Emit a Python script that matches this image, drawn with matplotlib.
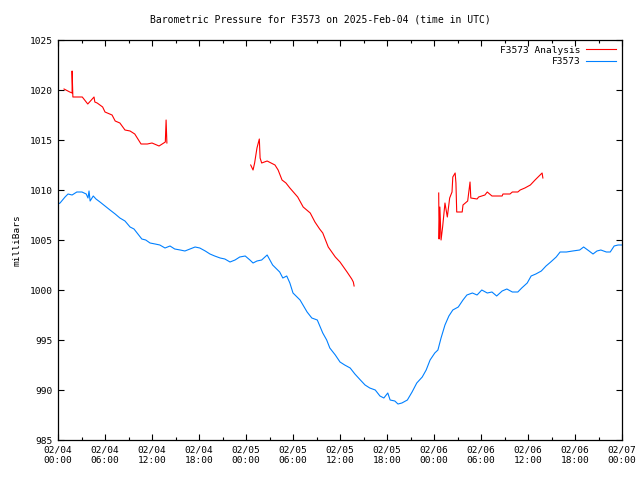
import numpy as np
import matplotlib.pyplot as plt
from matplotlib.ticker import MultipleLocator

# hours since 2025-02-04 00:00 UTC
obs_hours = [0.0, 0.26, 0.9, 1.28, 1.8, 2.4, 3.06, 3.6, 3.83, 3.96, 4.1, 4.5, 4.85, 5.36,
             6.0, 6.64, 7.3, 7.9, 8.55, 9.2, 9.7, 10.2, 10.7, 11.2, 11.75, 12.4, 13.0,
             13.66, 14.3, 14.9, 15.6, 16.2, 16.85, 17.5, 18.1, 18.8, 19.4, 20.0, 20.7,
             21.3, 21.96, 22.6, 23.2, 23.9, 24.5, 24.9, 25.4, 26.0, 26.7, 27.4, 28.3,
             28.7, 29.2, 29.6, 30.0, 30.9, 31.8, 32.4, 33.1, 33.8, 34.3, 34.7, 35.4,
             36.0, 36.6, 37.3, 37.9, 38.6, 39.2, 39.8, 40.5, 41.1, 41.6, 42.1, 42.4,
             43.0, 43.4, 43.9, 44.6, 45.2, 45.8, 46.5, 47.0, 47.5, 48.1, 48.5, 48.9,
             49.4, 49.9, 50.4, 51.1, 51.7, 52.2, 52.9, 53.5, 54.1, 54.8, 55.4, 56.0,
             56.7, 57.3, 58.0, 58.7, 59.2, 59.9, 60.4, 61.0, 61.7, 62.3, 62.9, 63.6,
             64.1, 64.9, 65.7, 66.6, 67.1, 67.8, 68.3, 68.8, 69.3, 70.0, 70.5, 71.0,
             71.5, 72.0]
obs_mb = [1008.6, 1008.7, 1009.3, 1009.6, 1009.5, 1009.8, 1009.8, 1009.6, 1009.2, 1009.9,
          1008.9, 1009.4, 1009.1, 1008.8, 1008.4, 1008.0, 1007.6, 1007.2, 1006.9, 1006.3,
          1006.1, 1005.6, 1005.1, 1005.0, 1004.7, 1004.6, 1004.5, 1004.2, 1004.4, 1004.1,
          1004.0, 1003.9, 1004.1, 1004.3, 1004.2, 1003.9, 1003.6, 1003.4, 1003.2, 1003.1,
          1002.8, 1003.0, 1003.3, 1003.4, 1003.0, 1002.7, 1002.9, 1003.0, 1003.5, 1002.5,
          1001.8, 1001.2, 1001.4, 1000.7, 999.7, 999.0, 997.8, 997.2, 997.0, 995.7, 995.0,
          994.2, 993.5, 992.8, 992.5, 992.2, 991.6, 991.0, 990.5, 990.2, 990.0, 989.4,
          989.2, 989.7, 989.0, 988.9, 988.6, 988.7, 989.0, 989.8, 990.7, 991.3, 992.0,
          993.0, 993.7, 994.0, 995.2, 996.5, 997.4, 998.0, 998.3, 999.0, 999.5, 999.7,
          999.5, 1000.0, 999.7, 999.8, 999.4, 999.9, 1000.1, 999.8, 999.8, 1000.2, 1000.7,
          1001.4, 1001.6, 1001.9, 1002.4, 1002.8, 1003.3, 1003.8, 1003.8, 1003.9, 1004.0,
          1004.3, 1003.9, 1003.6, 1003.9, 1004.0, 1003.8, 1003.8, 1004.4, 1004.5, 1004.5]

# analysis, three pieces separated by gaps (nan)
ana_hours = [0.77, 1.5, 1.8, 1.8, 1.9, 3.1, 3.8, 4.6, 4.7, 5.0, 5.7, 6.0, 6.9, 7.3, 7.9,
             8.55, 9.2, 9.8, 10.6, 11.4, 12.0, 12.9, 13.7, 13.8, 13.9,
             np.nan,
             24.6, 24.9, 25.1, 25.4, 25.7, 25.8, 26.0, 26.7, 27.2, 27.7, 28.1, 28.6, 29.1,
             29.6, 30.6, 31.3, 32.2, 32.8, 33.4, 33.8, 34.5, 35.4, 36.0, 36.9, 37.5, 37.7,
             37.8,
             np.nan,
             48.6, 48.65, 48.75, 48.9, 49.1, 49.4, 49.7, 50.0, 50.3, 50.4, 50.7, 50.8,
             50.9, 51.6, 51.7, 52.3, 52.6, 52.7, 53.5, 53.7, 54.5, 54.8, 55.4, 56.7, 56.8,
             57.7, 58.0, 58.7, 59.0, 59.6, 60.3, 60.9, 61.8, 61.9]
ana_mb = [1020.1, 1019.8, 1019.7, 1021.9, 1019.3, 1019.3, 1018.6, 1019.3, 1018.8, 1018.7,
          1018.3, 1017.8, 1017.5, 1016.9, 1016.7, 1016.0, 1015.9, 1015.6, 1014.6, 1014.6,
          1014.7, 1014.4, 1014.8, 1017.0, 1014.7,
          np.nan,
          1012.5, 1012.0, 1012.7, 1014.2, 1015.1, 1013.2, 1012.7, 1012.9, 1012.7, 1012.5,
          1012.0, 1011.0, 1010.7, 1010.2, 1009.3, 1008.3, 1007.7, 1006.8, 1006.1, 1005.7,
          1004.3, 1003.3, 1002.8, 1001.8, 1001.1, 1000.8, 1000.4,
          np.nan,
          1009.7, 1005.1, 1008.3, 1005.0, 1006.3, 1008.7, 1007.3, 1009.2, 1009.8, 1011.3,
          1011.7, 1010.7, 1007.8, 1007.8, 1008.5, 1008.9, 1010.8, 1009.2, 1009.1, 1009.3,
          1009.5, 1009.8, 1009.4, 1009.4, 1009.6, 1009.6, 1009.8, 1009.8, 1010.0, 1010.2,
          1010.5, 1011.0, 1011.7, 1011.2]

tick_hours = list(range(0, 73, 6))
tick_labels = ['02/04\n00:00', '02/04\n06:00', '02/04\n12:00', '02/04\n18:00',
               '02/05\n00:00', '02/05\n06:00', '02/05\n12:00', '02/05\n18:00',
               '02/06\n00:00', '02/06\n06:00', '02/06\n12:00', '02/06\n18:00',
               '02/07\n00:00']

plt.rcParams['font.family'] = 'DejaVu Sans Mono'
plt.rcParams['font.size'] = 6.8

fig = plt.figure(figsize=(6.4, 4.8), dpi=100)
ax = fig.add_axes([58 / 640, 40 / 480, 564 / 640, 400 / 480])

ax.plot(ana_hours, ana_mb, color='#ff0000', lw=0.8, label='F3573 Analysis')
ax.plot(obs_hours, obs_mb, color='#0080ff', lw=0.8, label='F3573')

ax.set_xlim(0, 72)
ax.set_ylim(985, 1025)
ax.set_xticks(tick_hours)
ax.set_xticklabels(tick_labels)
ax.xaxis.set_minor_locator(MultipleLocator(3))
ax.set_yticks(range(985, 1026, 5))
ax.tick_params(direction='in', top=True, right=True, length=4, width=0.8, pad=4)
ax.tick_params(which='minor', direction='in', top=True, length=2, width=0.8)
for s in ax.spines.values():
    s.set_linewidth(0.9)

ax.set_ylabel('milliBars', labelpad=6)
fig.text(0.5, 1 - 20 / 480, 'Barometric Pressure for F3573 on 2025-Feb-04 (time in UTC)',
         ha='center', va='center', fontsize=7)
ax.legend(loc='upper right', frameon=False, markerfirst=False, handlelength=3.2,
          borderaxespad=0.2, labelspacing=0.3, handletextpad=0.6)

fig.savefig('out.png', dpi=100)
